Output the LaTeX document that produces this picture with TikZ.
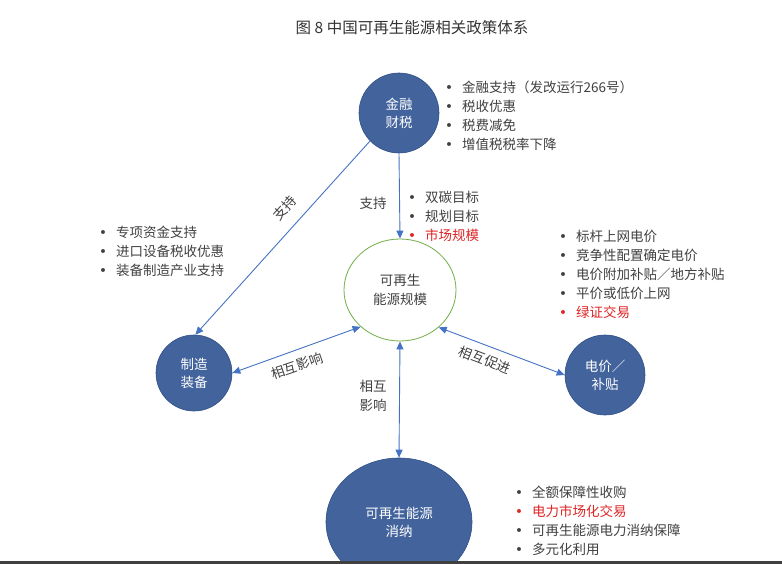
\documentclass[tikz,border=0pt]{standalone}
\usepackage{fontspec}
\setmainfont{Noto Sans CJK SC}
\newfontfamily\symfont{DejaVu Sans}
\usetikzlibrary{arrows.meta,shapes.geometric}
\definecolor{circblue}{RGB}{66,99,156}
\definecolor{circedge}{RGB}{47,79,135}
\definecolor{linkblue}{RGB}{68,114,196}
\definecolor{ringgreen}{RGB}{112,173,71}
\definecolor{txtgray}{RGB}{64,64,64}
\definecolor{txtred}{RGB}{222,36,36}
\def\bul{\makebox[17pt][l]{\symfont •}}
\def\redline#1{\textcolor{txtred}{\bul#1}}
\tikzset{
	bluecirc/.style={circle, fill=circblue, draw=circedge, line width=0.6pt, text=white, align=center, font=\fontsize{13.5}{18}\selectfont, inner sep=0pt},
	link/.style={draw=linkblue, line width=0.9pt, -{Triangle[length=8pt,width=7pt]}},
	duallink/.style={link, {Triangle[length=8pt,width=7pt]}-{Triangle[length=8pt,width=7pt]}},
	linklabel/.style={text=txtgray, font=\fontsize{13.5}{19}\selectfont, inner sep=0pt, align=center},
	bulletlist/.style={text=txtgray, font=\fontsize{13.5}{19}\selectfont, inner sep=0pt, align=left, anchor=west},
}
\begin{document}
\begin{tikzpicture}[x=1pt, y=-1pt]
			%%%%% START %%%%%
			\useasboundingbox (0,0) rectangle (782,564);
			\clip (0,0) rectangle (782,564);
			
			\node[font=\fontsize{15.5}{18}\selectfont, text=black!80] (title) at (412,28) {图 8 中国可再生能源相关政策体系};
			
			\node[bluecirc, minimum size=80] (jrcs) at (399,113) {金融\\财税};
			\node[ellipse, draw=ringgreen, line width=0.8pt, minimum width=112, minimum height=102, text=txtgray, align=center, font=\fontsize{13.5}{19}\selectfont, inner sep=0pt] (gmgm) at (400,290) {可再生\\能源规模};
			\node[bluecirc, minimum size=76] (zzzb) at (194,373) {制造\\装备};
			\node[bluecirc, minimum size=80] (djbt) at (605,375) {电价／\\补贴};
			\node[bluecirc, ellipse, minimum width=146, minimum height=128] (xnxn) at (399,522) {可再生能源\\消纳};
			
			\node[bulletlist] (jrcslist) at (445,116) {\bul 金融支持（发改运行266号）\\\bul 税收优惠\\\bul 税费减免\\\bul 增值税税率下降};
			\node[bulletlist] (gmgmlist) at (408,216) {\bul 双碳目标\\\bul 规划目标\\\redline{市场规模}};
			\node[bulletlist] (zzzblist) at (99,251) {\bul 专项资金支持\\\bul 进口设备税收优惠\\\bul 装备制造产业支持};
			\node[bulletlist] (djbtlist) at (559,274) {\bul 标杆上网电价\\\bul 竞争性配置确定电价\\\bul 电价附加补贴／地方补贴\\\bul 平价或低价上网\\\redline{绿证交易}};
			\node[bulletlist] (xnxnlist) at (515,521) {\bul 全额保障性收购\\\redline{电力市场化交易}\\\bul 可再生能源电力消纳保障\\\bul 多元化利用};
			
			\draw[link] (jrcs.224) -- (zzzb.88);
			\draw[link] (jrcs.south) -- (gmgm.north);
			\draw[duallink] (zzzb.east) -- (gmgm.223);
			\draw[duallink] (gmgm.316) -- (djbt.west);
			\draw[duallink] (gmgm.south) -- (xnxn.north);
			
			\node[linklabel, rotate=48] (lbl1) at (285,208) {支持};
			\node[linklabel] (lbl2) at (373,203) {支持};
			\node[linklabel, rotate=19] (lbl3) at (297,366) {相互影响};
			\node[linklabel, rotate=-21] (lbl4) at (485,360) {相互促进};
			\node[linklabel] (lbl5) at (373,396) {相互\\影响};
			
			\fill[black!75] (0,561) rectangle (782,564);
			%%%%% END %%%%%
\end{tikzpicture}
\end{document}
